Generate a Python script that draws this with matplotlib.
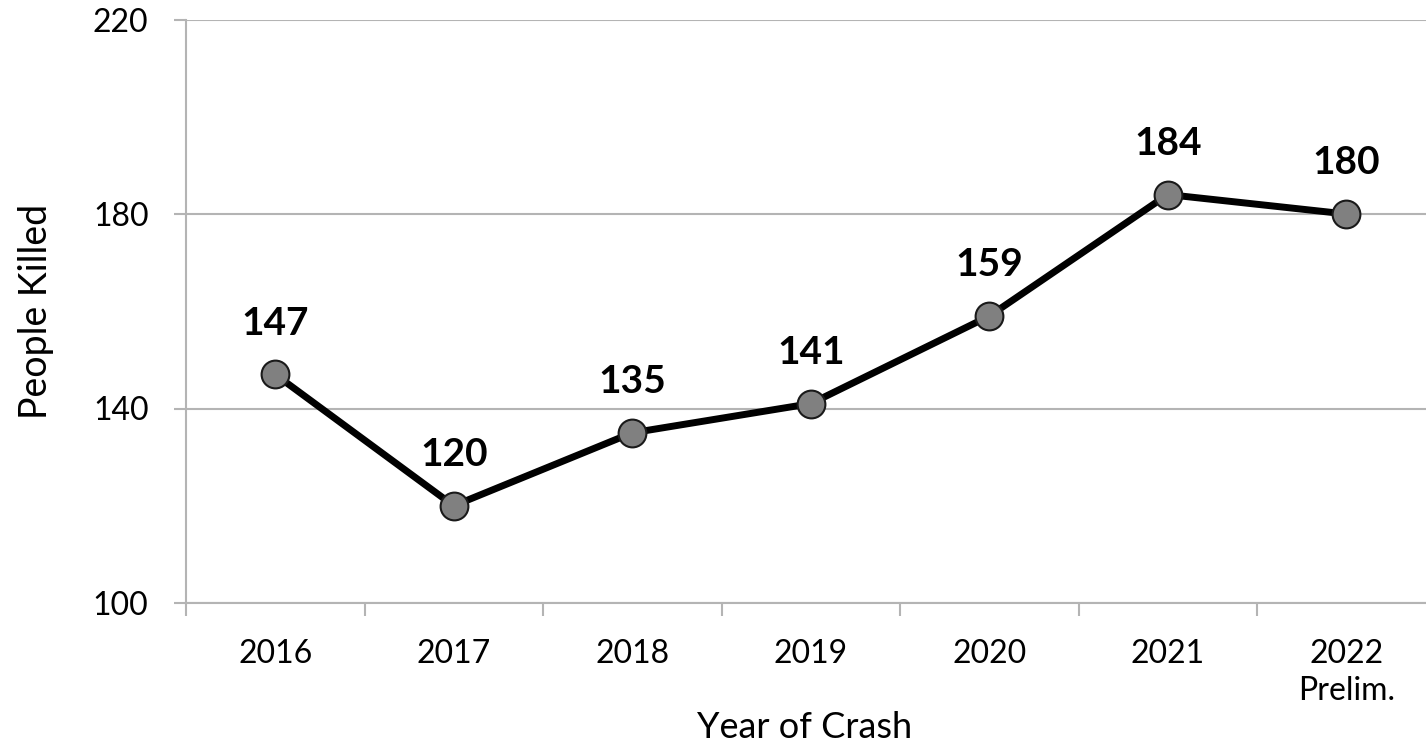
import numpy as np
import matplotlib
matplotlib.use("Agg")
import matplotlib.pyplot as plt

plt.rcParams["font.family"] = ["Lato", "DejaVu Sans"]

years = ["2016", "2017", "2018", "2019", "2020", "2021", "2022\nPrelim."]
killed = [147, 120, 135, 141, 159, 184, 180]
y_ticks = [100, 140, 180, 220]

GRID = "#b4b4b4"

fig = plt.figure(figsize=(14.26, 7.45), dpi=100)
ax = fig.add_axes([186 / 1426, 142 / 745, (1435.5 - 186) / 1426, (603 - 19.5) / 745])

x = np.arange(len(years))
ax.plot(x, killed, color="black", lw=5, zorder=3, solid_capstyle="round",
        marker="o", markersize=20, markerfacecolor="#808080",
        markeredgecolor="#1a1a1a", markeredgewidth=1.5)

for xi, v in zip(x, killed):
    ax.annotate(str(v), (xi, v), xytext=(0, 37), textcoords="offset points",
                ha="center", va="center", fontsize=28, fontweight="bold", color="black")

ax.set_xlim(-0.5, len(years) - 0.5)
ax.set_ylim(100, 220)
ax.set_yticks(y_ticks)
ax.set_xticks(x)
ax.set_xticklabels(years, linespacing=1.3)
ax.set_xticks(np.arange(len(years) + 1) - 0.5, minor=True)

ax.tick_params(axis="x", which="major", length=0, pad=26, labelsize=23, labelcolor="black")
ax.tick_params(axis="x", which="minor", length=9, width=1.5, color=GRID)
ax.tick_params(axis="y", length=9, width=1.5, color=GRID, pad=18, labelsize=23)

ax.grid(axis="y", color=GRID, lw=1.5)
ax.set_axisbelow(True)
for s in ["top", "right"]:
    ax.spines[s].set_visible(False)
for s in ["left", "bottom"]:
    ax.spines[s].set_color(GRID)
    ax.spines[s].set_linewidth(1.5)

# x label placed by hand so it fits in the canvas
fig.text(805 / 1426, 1 - 727 / 745, "Year of Crash", fontsize=26, ha="center", va="center")
ax.set_ylabel("People Killed", fontsize=27, labelpad=28)

fig.savefig("out.png", dpi=100, facecolor="white")
